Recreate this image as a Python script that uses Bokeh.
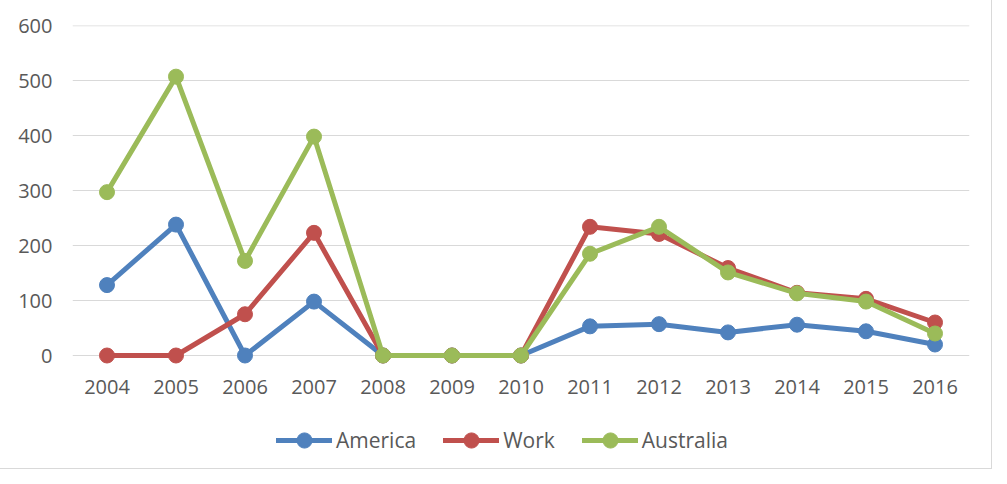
from bokeh.plotting import figure
from bokeh.models import Legend, LegendItem, FixedTicker, Span, Range1d
from bokeh.embed import file_html
from bokeh.resources import INLINE

years = ["2004", "2005", "2006", "2007", "2008", "2009", "2010",
         "2011", "2012", "2013", "2014", "2015", "2016"]
america = [128, 238, 0, 98, 0, 0, 0, 53, 57, 42, 56, 44, 20]
work = [0, 0, 75, 223, 0, 0, 0, 234, 221, 159, 114, 103, 60]
australia = [297, 507, 172, 398, 0, 0, 0, 185, 234, 151, 113, 98, 40]
y_ticks = [0, 100, 200, 300, 400, 500, 600]

series = [("America", america, "#4F81BD"),
          ("Work", work, "#C0504D"),
          ("Australia", australia, "#9BBB59")]

FONT = "Open Sans"
TXT = "#595959"
GRID = "#D9D9D9"

# layout: 330 px for the 0..600 value span, 112 px below zero for labels/legend
PLOT_PX = 330
BELOW_PX = 112
y_lo = -(BELOW_PX / PLOT_PX) * (y_ticks[-1] - y_ticks[0])

p = figure(x_range=years, y_range=Range1d(y_lo, y_ticks[-1]),
           width=991, height=468,
           output_backend="svg", toolbar_location=None,
           min_border_left=72, min_border_right=22, min_border_top=25,
           min_border_bottom=1)
p.frame_width = 897
p.frame_height = PLOT_PX + BELOW_PX
p.outline_line_color = None
p.background_fill_color = "white"
p.border_fill_color = "white"
p.styles = {"outline": "1px solid #D9D9D9"}

p.xgrid.grid_line_color = None
p.ygrid.grid_line_color = GRID
p.ygrid.grid_line_width = 1.2
p.add_layout(Span(location=y_ticks[-1], dimension="width", line_color=GRID,
                  line_width=1.5, level="underlay"))

p.yaxis.ticker = FixedTicker(ticks=y_ticks)
p.xaxis.fixed_location = 0
for ax in (p.xaxis[0], p.yaxis[0]):
    ax.axis_line_color = None
    ax.major_tick_line_color = None
    ax.minor_tick_line_color = None
    ax.major_tick_out = 0
    ax.major_tick_in = 0
    ax.major_label_text_font = FONT
    ax.major_label_text_font_size = "20px"
    ax.major_label_text_color = TXT
p.yaxis.major_label_standoff = 20
p.xaxis.major_label_standoff = 24

items = []
for name, vals, col in series:
    ln = p.line(years, vals, line_color=col, line_width=5, line_cap="round",
                line_join="round")
    sc = p.scatter(years, vals, size=15, fill_color=col, line_color=col)
    items.append(LegendItem(label=name, renderers=[ln, sc]))

legend = Legend(items=items, orientation="horizontal", location=(204, 8),
                label_text_font=FONT, label_text_font_size="21px",
                label_text_color=TXT, glyph_width=56, glyph_height=38,
                label_standoff=4, spacing=27, border_line_color=None,
                background_fill_alpha=0, padding=4, margin=0)
p.add_layout(legend)

open("out.html", "w").write(file_html(p, INLINE))
